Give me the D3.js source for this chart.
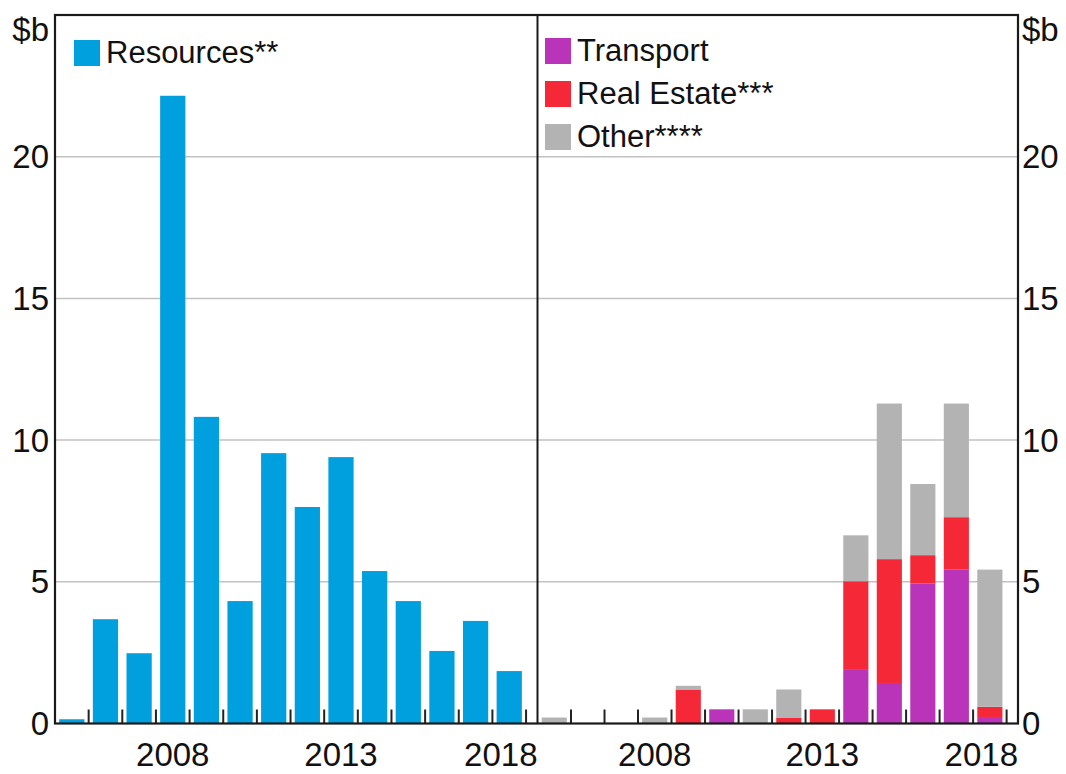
<!DOCTYPE html>
<html>
<head>
<meta charset="utf-8">
<script src="https://cdn.jsdelivr.net/npm/d3@7"></script>
<style>
  html, body { margin: 0; padding: 0; background: #fff; }
  svg { display: block; }
  text { font-family: "Liberation Sans", Arial, sans-serif; fill: #111; }
</style>
</head>
<body>
<svg id="chart" width="1066" height="774"></svg>
<script>
// ---- Data ----
const years = [2005, 2006, 2007, 2008, 2009, 2010, 2011, 2012, 2013, 2014, 2015, 2016, 2017, 2018];
const resources = [0.15, 3.68, 2.48, 22.15, 10.82, 4.32, 9.54, 7.64, 9.4, 5.38, 4.32, 2.56, 3.62, 1.85];
const transport = [0, 0, 0, 0, 0, 0.5, 0, 0, 0, 1.92, 1.43, 4.94, 5.44, 0.23];
const realEstate = [0, 0, 0, 0, 1.2, 0, 0, 0.21, 0.5, 3.1, 4.37, 1.0, 1.84, 0.36];
const other = [0.21, 0, 0, 0.21, 0.13, 0, 0.5, 0.99, 0, 1.62, 5.49, 2.51, 4.01, 4.84];
const yTicks = [0, 5, 10, 15, 20];
const xLabels = [2008, 2013, 2018];
const leftLegend = ["Resources**"];
const rightLegend = ["Transport", "Real Estate***", "Other****"];

const colors = {
  resources: "#00a0df",
  transport: "#b934b9",
  realEstate: "#f42837",
  other: "#b3b3b3"
};

(function () {
// ---- Layout ----
const plotTop = 15, plotBottom = 723.5;
const leftP = { x0: 55, x1: 537.5 };
const rightP = { x0: 537.5, x1: 1018 };
const domainEnd = 2019.34;

const svg = d3.select("#chart");
const y = d3.scaleLinear().domain([0, 25]).range([plotBottom, plotTop]);
const xL = d3.scaleLinear().domain([2005, domainEnd]).range([leftP.x0, leftP.x1]);
const xR = d3.scaleLinear().domain([2005, domainEnd]).range([rightP.x0, rightP.x1]);
const barFrac = 0.75;

// gridlines
svg.append("g").selectAll("line").data(yTicks.filter(d => d > 0)).join("line")
  .attr("x1", leftP.x0).attr("x2", rightP.x1)
  .attr("y1", d => y(d)).attr("y2", d => y(d))
  .attr("stroke", "#c2c2c2").attr("stroke-width", 1.5);

// left bars
const bw = (xL(2006) - xL(2005));
svg.append("g").selectAll("rect").data(years.map((yr, i) => ({ yr, v: resources[i] }))).join("rect")
  .attr("x", d => xL(d.yr) + bw * (1 - barFrac) / 2)
  .attr("width", bw * barFrac)
  .attr("y", d => y(d.v))
  .attr("height", d => y(0) - y(d.v))
  .attr("fill", colors.resources);

// right stacked bars
const table = years.map((yr, i) => ({ yr, transport: transport[i], realEstate: realEstate[i], other: other[i] }));
const stack = d3.stack().keys(["transport", "realEstate", "other"])(table);
const bwR = (xR(2006) - xR(2005));
svg.append("g").selectAll("g").data(stack).join("g")
  .attr("fill", s => colors[s.key])
  .selectAll("rect").data(s => s.filter(d => d[1] - d[0] > 0)).join("rect")
  .attr("x", d => xR(d.data.yr) + bwR * (1 - barFrac) / 2)
  .attr("width", bwR * barFrac)
  .attr("y", d => y(d[1]))
  .attr("height", d => y(d[0]) - y(d[1]));

// x ticks (band boundaries, pointing up)
const tickYears = d3.range(2006, 2020);
[xL, xR].forEach(xs => {
  svg.append("g").selectAll("line").data(tickYears).join("line")
    .attr("x1", d => xs(d)).attr("x2", d => xs(d))
    .attr("y1", plotBottom).attr("y2", plotBottom - 14)
    .attr("stroke", "#222").attr("stroke-width", 2);
});

// frame
svg.append("rect").attr("x", leftP.x0).attr("y", plotTop)
  .attr("width", rightP.x1 - leftP.x0).attr("height", plotBottom - plotTop)
  .attr("fill", "none").attr("stroke", "#1a1a1a").attr("stroke-width", 2.2);
svg.append("line").attr("x1", leftP.x1).attr("x2", leftP.x1).attr("y1", plotTop).attr("y2", plotBottom)
  .attr("stroke", "#1a1a1a").attr("stroke-width", 2);

// y labels
const fs = 33, lfs = 31;
svg.append("g").selectAll("text").data(yTicks).join("text")
  .attr("x", 49).attr("y", d => y(d)).attr("dy", "0.35em")
  .attr("text-anchor", "end").attr("font-size", fs).text(d => d);
svg.append("g").selectAll("text").data(yTicks).join("text")
  .attr("x", 1022).attr("y", d => y(d)).attr("dy", "0.35em")
  .attr("text-anchor", "start").attr("font-size", fs).text(d => d);
svg.append("text").attr("x", 49).attr("y", 41).attr("text-anchor", "end").attr("font-size", fs).text("$b");
svg.append("text").attr("x", 1022).attr("y", 41).attr("text-anchor", "start").attr("font-size", fs).text("$b");

// x labels
[[xL, leftP], [xR, rightP]].forEach(([xs, p]) => {
  const g = svg.append("g");
  xLabels.forEach(yr => {
    const t = g.append("text").attr("y", 766).attr("text-anchor", "middle").attr("font-size", fs).text(yr);
    const w = t.node().getComputedTextLength();
    const c = xs(yr + 0.5);
    t.attr("x", Math.min(c, p.x1 - w / 2));
  });
});

// legends
const lg = svg.append("g");
leftLegend.forEach((name, i) => {
  lg.append("rect").attr("x", 74).attr("y", 40 + i * 43).attr("width", 26).attr("height", 26).attr("fill", colors.resources);
  lg.append("text").attr("x", 106).attr("y", 63 + i * 43).attr("font-size", lfs).text(name);
});
const rKeys = ["transport", "realEstate", "other"];
rightLegend.forEach((name, i) => {
  lg.append("rect").attr("x", 545).attr("y", 38 + i * 43).attr("width", 26).attr("height", 26).attr("fill", colors[rKeys[i]]);
  lg.append("text").attr("x", 577).attr("y", 61 + i * 43).attr("font-size", lfs).text(name);
});
})();
</script>
</body>
</html>
